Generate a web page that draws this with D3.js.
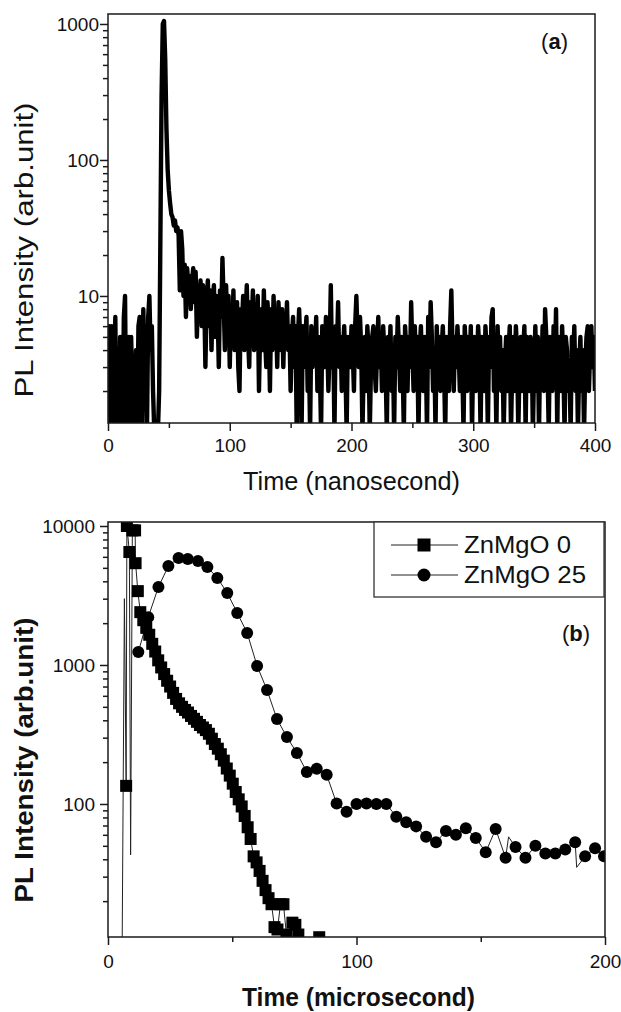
<!DOCTYPE html>
<html><head><meta charset="utf-8">
<script src="https://cdn.jsdelivr.net/npm/d3@7"></script>
<style>body{margin:0;background:#fff}svg{display:block}</style>
</head><body>
<svg id="c" width="621" height="1012"></svg>
<script>
// ---------- Panel (a): PL decay, 1 ns sampling, 0..400 ns ----------
const intensityA = [
 3,6,1,6,2,1,7,1,4,1, 5,2,1,7,10,1,3,5,1,5, 2,1,1,4,1,6,7,2,1,8, 3,6,1,7,10,4,6,2,1,1,
 1,
 1,2,25,300,1000,1050,550,170,85,60, 48,40,38,33,36,30,32,28,11,30,
 22,10,17,7,16,12,14,8,13,16, 9,15,5,11,9,13,6,12,10,3,
 9,13,6,11,4,9,12,5,10,8, 3,11,7,19,9,4,12,6,10,3,
 8,5,11,4,7,9,3,2,8,6, 10,4,7,12,5,3,9,6,11,4,
 7,5,10,2,6,8,4,11,5,3, 9,6,2,8,4,10,5,7,3,9,
 6,4,8,3,7,5,9,4,6,2, 5,7,3,6,1,5,8,4,1,6,
 3,5,7,2,4,1,6,3,5,4, 7,2,5,3,1,6,4,3,7,5,
 2,4,12,3,5,1,6,4,9,3, 5,2,4,6,3,1,5,4,3,6,
 4,2,6,10,5,3,7,4,1,3, 5,2,6,4,1,3,5,6,3,2,
 4,7,3,5,2,6,4,3,1,5, 3,6,2,4,1,5,3,7,4,2,
 5,3,1,6,4,2,5,3,9,4, 2,6,3,5,1,4,6,3,2,5,
 4,1,7,3,9,5,2,4,1,6, 3,5,2,4,6,3,1,5,4,2,
 6,11,4,2,5,3,6,4,2,5, 3,1,6,4,2,5,3,6,1,4,
 5,2,3,6,4,1,5,3,2,6, 4,1,5,3,7,8,2,4,1,6,
 3,5,2,4,1,3,5,2,4,6, 1,3,5,2,6,4,1,3,5,2,
 4,6,1,5,3,2,5,4,1,3, 6,2,5,1,4,3,6,2,8,5,
 3,1,5,4,2,6,3,8,1,5, 4,2,6,3,1,5,4,2,3,1,
 5,3,6,2,4,1,3,5,2,4, 1,3,5,6,2,4,6,3,5,2
];
const timeA = intensityA.map((_, i) => i); // sample times in ns (1 ns bins)
const xTicksA = [0, 100, 200, 300, 400];
const xMinorA = [50, 150, 250, 350];
const yTicksA = [10, 100, 1000];
const yMinorA = [2,3,4,5,6,7,8,9,20,30,40,50,60,70,80,90,200,300,400,500,600,700,800,900];

// ---------- Panel (b): two samples, microseconds ----------
const seriesNames = ["ZnMgO 0", "ZnMgO 25"];
const timeB0 = [5.6,6.6,7.3,7.6,8.6,9.1,9.8,10.9,11.1,12.0,13.0,
 14.2,15.4,16.6,17.8,19.0,20.2,21.4,22.6,23.8,25.0,26.2,27.4,28.6,29.8,31.0,32.2,33.4,34.6,35.8,37.0,
 38.2,39.4,40.6,41.8,43.0,44.2,45.4,46.6,47.8,49.0,50.2,51.4,52.6,53.8,55.0,56.2,57.4,58.6,59.8,61.0,
 62.2,63.4,64.6,65.8,67.0,68.2,69.4,70.6,71.8,73.0,74.2,75.4,76.6,77.8,79.0,80.2,81.4,82.6,83.8,85.0,86.2,87.4];
const valueB0 = [5,3000,135,10000,6500,43,9300,9300,5400,3400,2400,
 2100,1850,1650,1420,1250,1080,960,860,770,700,630,570,530,500,475,455,430,410,390,370,
 355,340,320,295,270,250,228,205,180,160,140,122,108,96,82,68,56,42,38,33,
 28,24,21,19,13,12.5,19,19,11.5,10,14,13.5,11.5,9,8,7,6,8,9,11,7,5];
const markB0 = [0,0,1,1,1,0,1,1,1,1,1,
 1,1,1,1,1,1,1,1,1,1,1,1,1,1,1,1,1,1,1,1,
 1,1,1,1,1,1,1,1,1,1,1,1,1,1,1,1,1,1,1,1,
 1,1,1,1,1,1,1,1,1,1,1,1,1,1,1,1,1,1,1,1,1,1];
const timeB25 = [12.2,16.2,20.3,24.3,28.4,32.1,36.2,40.0,44.0,48.0,52.0,56.0,60.0,64.0,68.0,72.0,76.0,80.0,84.0,88.0,
 92.0,96.0,100.0,104.0,108.0,112.0,116.0,120.0,124.0,128.0,132.0,136.0,140.0,144.0,148.0,152.0,156.0,160.0,161.2,164.0,
 168.0,172.0,176.0,180.0,184.0,188.0,188.6,192.0,196.0,199.6];
const valueB25 = [1240,2210,3640,5150,5890,5800,5600,5070,4225,3300,2370,1700,985,660,408,303,233,170,179,162,
 101,88,100,101,100,100,81,74,69,58,53,64,60,67,57,45,66,41,58,49,
 41,50,44,44,47,53,35,42,48,42];
const markB25 = [1,1,1,1,1,1,1,1,1,1,1,1,1,1,1,1,1,1,1,1,
 1,1,1,1,1,1,1,1,1,1,1,1,1,1,1,1,1,1,0,1,
 1,1,1,1,1,1,0,1,1,1];
const xTicksB = [0, 100, 200];
const xMinorB = [50, 150];
const yTicksB = [100, 1000, 10000];
const yMinorB = [20,30,40,50,60,70,80,90,200,300,400,500,600,700,800,900,2000,3000,4000,5000,6000,7000,8000,9000];

// ---------- drawing ----------
const FONT = "'Liberation Sans', Arial, Helvetica, sans-serif";
const svg = d3.select('#c').style('font-family', FONT);
const defs = svg.append('defs');

function frame(name, L, T, R, B, x, y, xMaj, xMin, yMaj, yMin, xPad, yPad) {
  defs.append('clipPath').attr('id', 'clip' + name)
    .append('rect').attr('x', L).attr('y', T).attr('width', R - L).attr('height', B - T);
  const g = svg.append('g');
  const ax = g.append('g').attr('transform', `translate(0,${B})`)
    .call(d3.axisBottom(x).tickValues(xMaj).tickSize(8).tickSizeOuter(0).tickPadding(xPad).tickFormat(d3.format('d')));
  const axm = g.append('g').attr('transform', `translate(0,${B})`)
    .call(d3.axisBottom(x).tickValues(xMin).tickSize(5).tickSizeOuter(0).tickFormat(''));
  const ay = g.append('g').attr('transform', `translate(${L},0)`)
    .call(d3.axisLeft(y).tickValues(yMaj).tickSize(8).tickSizeOuter(0).tickPadding(yPad).tickFormat(d3.format('d')));
  const aym = g.append('g').attr('transform', `translate(${L},0)`)
    .call(d3.axisLeft(y).tickValues(yMin).tickSize(5).tickSizeOuter(0).tickFormat(''));
  [ax, axm, ay, aym].forEach(a => {
    a.select('.domain').remove();
    a.selectAll('line').attr('stroke', '#1a1a1a').attr('stroke-width', 1.5);
    a.selectAll('text').attr('fill', '#111').style('font-size', '19px').style('font-family', FONT);
  });
  return g;
}

// Panel (a)
const LA = 108, TA = 14, RA = 595, BA = 423;
const xA = d3.scaleLinear().domain([0, 400]).range([LA, RA]);
const yA = d3.scaleLog().domain([1.164, 1184]).range([BA, TA]);
frame('A', LA, TA, RA, BA, xA, yA, xTicksA, xMinorA, yTicksA, yMinorA, 7.5, 1);
svg.append('path').datum(intensityA)
  .attr('clip-path', 'url(#clipA)')
  .attr('fill', 'none').attr('stroke', '#000').attr('stroke-width', 4.4)
  .attr('stroke-linejoin', 'round')
  .attr('d', d3.line().x((d, i) => xA(timeA[i])).y(d => yA(d)));
svg.append('rect').attr('x', LA).attr('y', TA).attr('width', RA - LA).attr('height', BA - TA)
  .attr('fill', 'none').attr('stroke', '#1a1a1a').attr('stroke-width', 1.5);
svg.append('text').attr('x', (LA + RA) / 2).attr('y', 490).attr('text-anchor', 'middle')
  .style('font-size', '25px').attr('fill', '#111')
  .attr('textLength', 217).attr('lengthAdjust', 'spacingAndGlyphs').text('Time (nanosecond)');
svg.append('text').attr('transform', 'translate(33,250) rotate(-90)').attr('text-anchor', 'middle')
  .style('font-size', '25px').attr('fill', '#111')
  .attr('textLength', 295).attr('lengthAdjust', 'spacingAndGlyphs').text('PL Intensity (arb.unit)');
const ta = svg.append('text').attr('x', 568).attr('y', 49).attr('text-anchor', 'end')
  .style('font-size', '22px').attr('fill', '#111');
ta.append('tspan').text('(');
ta.append('tspan').style('font-weight', 'bold').text('a');
ta.append('tspan').text(')');

// Panel (b)
const LB = 108, TB = 522, RB = 605, BB = 937;
const xB = d3.scaleLinear().domain([0, 200]).range([LB, RB]);
const yB = d3.scaleLog().domain([11.04, 10686]).range([BB, TB]);
frame('B', LB, TB, RB, BB, xB, yB, xTicksB, xMinorB, yTicksB, yMinorB, 9.5, 5);

const lineB = (ts) => d3.line().x((d, i) => xB(ts[i])).y(d => yB(d));
const plotB = svg.append('g').attr('clip-path', 'url(#clipB)');
plotB.append('path').datum(valueB0).attr('fill', 'none').attr('stroke', '#222').attr('stroke-width', 1)
  .attr('d', lineB(timeB0));
plotB.append('path').datum(valueB25).attr('fill', 'none').attr('stroke', '#222').attr('stroke-width', 1)
  .attr('d', lineB(timeB25));
const sq = 12;
plotB.selectAll('rect.s0').data(valueB0.map((v, i) => ({t: timeB0[i], v, m: markB0[i]})).filter(d => d.m))
  .join('rect').attr('class', 's0')
  .attr('x', d => xB(d.t) - sq / 2).attr('y', d => yB(d.v) - sq / 2)
  .attr('width', sq).attr('height', sq).attr('fill', '#000');
plotB.selectAll('circle.s25').data(valueB25.map((v, i) => ({t: timeB25[i], v, m: markB25[i]})).filter(d => d.m))
  .join('circle').attr('class', 's25')
  .attr('cx', d => xB(d.t)).attr('cy', d => yB(d.v)).attr('r', 6).attr('fill', '#000');

svg.append('rect').attr('x', LB).attr('y', TB).attr('width', RB - LB).attr('height', BB - TB)
  .attr('fill', 'none').attr('stroke', '#1a1a1a').attr('stroke-width', 1.5);

// legend
const lg = svg.append('g');
lg.append('rect').attr('x', 374).attr('y', 522).attr('width', 230).attr('height', 75)
  .attr('fill', '#fff').attr('stroke', '#333').attr('stroke-width', 1.3);
const rows = [545, 575];
const textLens = [107, 122];
seriesNames.forEach((name, i) => {
  const cy = rows[i];
  lg.append('line').attr('x1', 391).attr('x2', 458).attr('y1', cy).attr('y2', cy)
    .attr('stroke', '#222').attr('stroke-width', 1);
  if (i === 0) lg.append('rect').attr('x', 424 - 6.5).attr('y', cy - 6.5).attr('width', 13).attr('height', 13).attr('fill', '#000');
  else lg.append('circle').attr('cx', 424).attr('cy', cy).attr('r', 6.5).attr('fill', '#000');
  lg.append('text').attr('x', 464).attr('y', cy + 8).style('font-size', '23px').attr('fill', '#111')
    .attr('textLength', textLens[i]).attr('lengthAdjust', 'spacingAndGlyphs').text(name);
});

svg.append('text').attr('x', (LB + RB) / 2 + 2).attr('y', 1006).attr('text-anchor', 'middle')
  .style('font-size', '26px').style('font-weight', 'bold').attr('fill', '#111')
  .attr('textLength', 233).attr('lengthAdjust', 'spacingAndGlyphs').text('Time (microsecond)');
svg.append('text').attr('transform', 'translate(33,760) rotate(-90)').attr('text-anchor', 'middle')
  .style('font-size', '25px').style('font-weight', 'bold').attr('fill', '#111')
  .attr('textLength', 285).attr('lengthAdjust', 'spacingAndGlyphs').text('PL Intensity (arb.unit)');
const tb = svg.append('text').attr('x', 590).attr('y', 641).attr('text-anchor', 'end')
  .style('font-size', '22px').attr('fill', '#111');
tb.append('tspan').text('(');
tb.append('tspan').style('font-weight', 'bold').text('b');
tb.append('tspan').text(')');
</script>
</body></html>
